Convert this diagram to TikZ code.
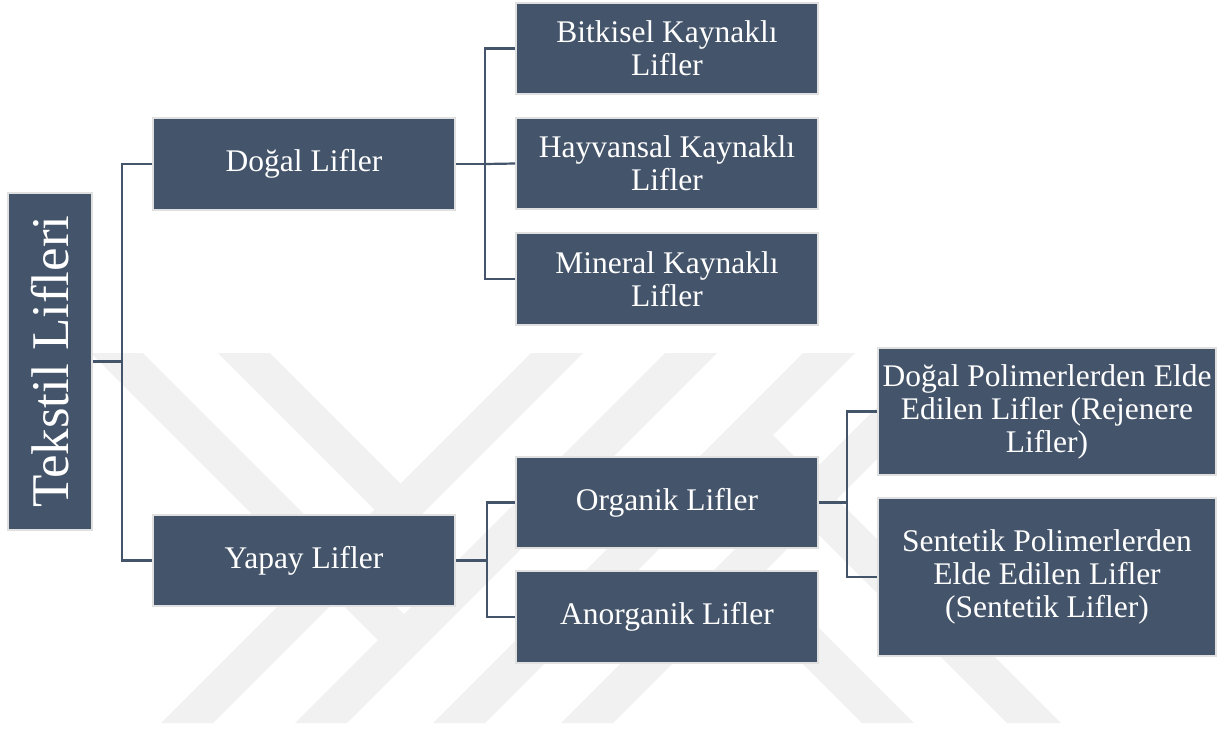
\documentclass[tikz,border=0pt]{standalone}
\usepackage{fontspec}
\usepackage{graphicx}
\setmainfont{Liberation Serif}
\definecolor{boxfill}{RGB}{68,84,106}
\definecolor{boxedge}{RGB}{224,224,224}
\definecolor{wm}{RGB}{241,241,241}
\begin{document}
\begin{tikzpicture}[x=1pt,y=-1pt,
  box/.style={draw=boxedge, line width=1.6pt, fill=boxfill, text=white,
    align=center, inner sep=0pt, font=\fontsize{31.5}{33}\selectfont},
  conn/.style={draw=boxfill, line width=2.2pt},
  wmark/.style={fill=wm, draw=none}]
\useasboundingbox (0,0) rectangle (1229,729);
% watermark
\fill[wmark] (161,723) -- (213,723) -- (583,353) -- (531,353) -- cycle;
\fill[wmark] (295,723) -- (347,723) -- (717,353) -- (665,353) -- cycle;
\fill[wmark] (433,723) -- (485,723) -- (855,353) -- (803,353) -- cycle;
\fill[wmark] (561,723) -- (613,723) -- (983,353) -- (931,353) -- cycle;
\fill[wmark] (91,353) -- (143,353) -- (417,627) -- (391,653) -- cycle;
\fill[wmark] (218,353) -- (270,353) -- (413,496) -- (387,522) -- cycle;
\fill[wmark] (862,723) -- (914,723) -- (750.5,559.5) -- (724.5,585.5) -- cycle;
\fill[wmark] (1007,723) -- (1061,723) -- (760,422) -- (733,449) -- cycle;
% nodes
\node[box, minimum width=84, minimum height=337] (root) at (50,361.5)
  {\fontsize{53}{55}\selectfont\rotatebox{90}{Tekstil Lifleri}};
\node[box, minimum width=302, minimum height=92] (dogal) at (304,164) {Doğal Lifler};
\node[box, minimum width=302, minimum height=91] (yapay) at (304,560.5) {Yapay Lifler};
\node[box, minimum width=302, minimum height=91] (bitki) at (667,48.5) {Bitkisel Kaynaklı\\Lifler};
\node[box, minimum width=302, minimum height=91] (hayvan) at (667,163.5) {Hayvansal Kaynaklı\\Lifler};
\node[box, minimum width=302, minimum height=92] (mineral) at (667,279) {Mineral Kaynaklı\\Lifler};
\node[box, minimum width=302, minimum height=91] (organik) at (667,502.5) {Organik Lifler};
\node[box, minimum width=302, minimum height=92] (anorganik) at (667,617) {Anorganik Lifler};
\node[box, minimum width=338, minimum height=127] (dpol) at (1047,411.5) {Doğal Polimerlerden Elde\\Edilen Lifler (Rejenere\\Lifler)};
\node[box, minimum width=338, minimum height=158] (spol) at (1047,577) {Sentetik Polimerlerden\\Elde Edilen Lifler\\(Sentetik Lifler)};
% junctions
\coordinate (j1) at (122,361.5);
\coordinate (j2) at (485,164);
\coordinate (j3) at (487,560.5);
\coordinate (j4) at (847,502.5);
% connectors
\draw[conn] (root.east) -- (j1);
\draw[conn] (dogal.west) -| (j1) |- (yapay.west);
\draw[conn] (dogal.east) -- (j2);
\draw[conn] (bitki.west) -| (j2) |- (mineral.west);
\draw[conn] (j2) -- (hayvan.west);
\draw[conn] (yapay.east) -- (j3);
\draw[conn] (organik.west) -| (j3) |- (anorganik.west);
\draw[conn] (organik.east) -- (j4);
\draw[conn] (dpol.west) -| (j4) |- (spol.west);
\end{tikzpicture}
\end{document}
